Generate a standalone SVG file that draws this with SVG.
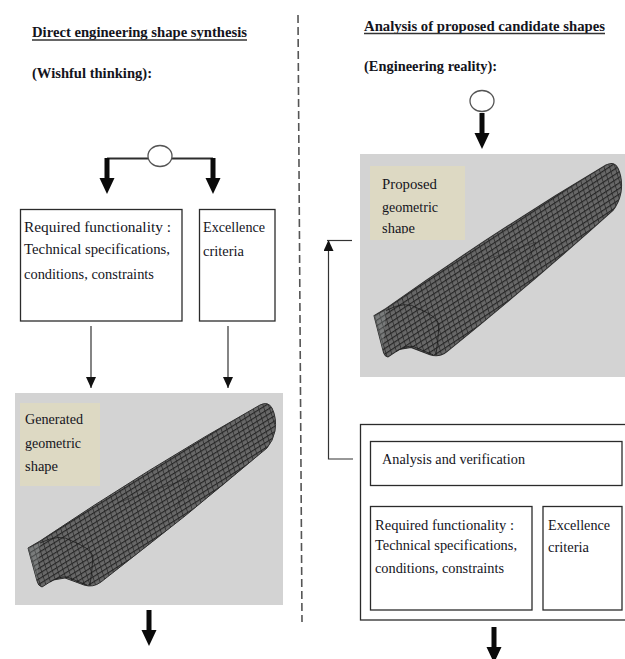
<svg xmlns="http://www.w3.org/2000/svg" width="625" height="659" viewBox="0 0 625 659">
<style>
text{font-family:"Liberation Serif","Times New Roman",serif;font-size:15.5px;fill:#14141c}
.h{font-weight:bold;font-size:15.5px}
.box{fill:#fff;stroke:#2b2b2b;stroke-width:1.3}
.grey{fill:#d3d3d3}
.tan{fill:#ddd9c3}
.thin{fill:none;stroke:#333;stroke-width:1.2}
.mid{fill:none;stroke:#2e2e2e;stroke-width:1.8}
.ul{stroke:#333;stroke-width:1.4}
.circle{fill:#fff;stroke:#555;stroke-width:1.3}
.dash{stroke:#555;stroke-width:1.6;stroke-dasharray:8 4;fill:none}
</style>
<defs>
<marker id="thinHead" markerWidth="11" markerHeight="10" refX="11" refY="5" orient="auto" markerUnits="userSpaceOnUse"><path d="M0 0L11 5L0 10Z" fill="#111"/></marker>
<path id="fat" d="M-2.500 0H2.500V20H7.500L0 36L-7.500 20H-2.500Z" fill="#0a0a0a"/>
<pattern id="mesh" width="5.400" height="4.500" patternUnits="userSpaceOnUse" patternTransform="translate(28 548) rotate(-32) skewX(-14)">
<rect width="5.400" height="4.500" fill="#686868"/>
<path d="M0 0.500H5.400M0 0V4.500" stroke="#262626" stroke-width="1.400" fill="none"/>
</pattern>
<filter id="soft" x="-5%" y="-5%" width="110%" height="110%"><feGaussianBlur stdDeviation="0.4"/></filter>
<g id="blade" filter="url(#soft)">
<path d="M28 548L40 541Q150 467 260 405Q268 401 272 408Q277 418 275 431Q273 441 267 448Q186 517 101 582Q93 588 84 585L65 578L53 580L42 587Q38 586 37 581Z" fill="url(#mesh)" stroke="#2f2f2f" stroke-width="1"/>
<path d="M28 548L40 543L37 581Z" fill="#aeb8b8" opacity="0.25"/>
<path d="M40 543Q60 533 72 541Q90 548 93 556Q92 572 90 585M50 582Q60 576 67 577L87 585" fill="none" stroke="#1c1c1c" stroke-width="0.8"/>
<path d="M117 503Q160 488 190 478L177 507" fill="none" stroke="#1c1c1c" stroke-width="0.8" opacity="0.55"/>
</g>
<clipPath id="clipShape"><rect x="370" y="166" width="95" height="67.500"/></clipPath>
</defs>

<g id="connectors">
<path class="dash" d="M298 15L302 622"/>
<path class="mid" d="M107 158.500H213"/>
<use href="#fat" x="107" y="158"/>
<use href="#fat" x="213" y="158"/>
<path class="thin" d="M91 326V388" marker-end="url(#thinHead)"/>
<path class="thin" d="M228 326V388" marker-end="url(#thinHead)"/>
<use href="#fat" x="149" y="610"/>
<use href="#fat" x="482" y="113"/>
<path class="thin" d="M353 459H328.500V240" marker-end="url(#thinHead)"/>
<path class="thin" d="M327 240.500H352"/>
<use href="#fat" x="494" y="627"/>
</g>

<g id="title-left">
<text class="h" x="32" y="37" textLength="215" lengthAdjust="spacingAndGlyphs">Direct engineering shape synthesis</text>
<line class="ul" x1="32" y1="40" x2="247" y2="40"/>
<text class="h" x="32" y="78" textLength="120" lengthAdjust="spacingAndGlyphs">(Wishful thinking):</text>
</g>
<g id="start-left"><ellipse class="circle" cx="160" cy="156" rx="12" ry="10.500"/></g>

<g id="functionality-left">
<rect class="box" x="20.500" y="209.500" width="161.500" height="111.500"/>
<text x="24" y="232" textLength="147" lengthAdjust="spacingAndGlyphs">Required functionality :</text>
<text x="24" y="254" textLength="146" lengthAdjust="spacingAndGlyphs">Technical specifications,</text>
<text x="24" y="279" textLength="130" lengthAdjust="spacingAndGlyphs">conditions, constraints</text>
</g>
<g id="excellence-left">
<rect class="box" x="199.500" y="209.500" width="75.500" height="111.500"/>
<text x="203" y="232" textLength="62" lengthAdjust="spacingAndGlyphs">Excellence</text>
<text x="203" y="256" textLength="41" lengthAdjust="spacingAndGlyphs">criteria</text>
</g>

<g id="generated-shape">
<rect class="grey" x="15" y="393" width="268" height="212"/>
<rect class="tan" x="20" y="403" width="80" height="83"/>
<use href="#blade"/>
<text x="25" y="424" textLength="58" lengthAdjust="spacingAndGlyphs">Generated</text>
<text x="25" y="448" textLength="56" lengthAdjust="spacingAndGlyphs">geometric</text>
<text x="25" y="471" textLength="33" lengthAdjust="spacingAndGlyphs">shape</text>
</g>

<g id="title-right">
<text class="h" x="364" y="31" textLength="241" lengthAdjust="spacingAndGlyphs">Analysis of proposed candidate shapes</text>
<line class="ul" x1="364" y1="33.500" x2="605" y2="33.500"/>
<text class="h" x="364" y="71" textLength="133" lengthAdjust="spacingAndGlyphs">(Engineering reality):</text>
</g>
<g id="start-right"><ellipse class="circle" cx="482" cy="101" rx="12" ry="10.500"/></g>

<g id="proposed-shape">
<rect class="grey" x="360" y="154" width="265" height="223"/>
<rect class="tan" x="370" y="166" width="95" height="74"/>
<use href="#blade" transform="translate(346 -261.800) scale(1 1.054)"/>
<text x="382" y="189" textLength="55" lengthAdjust="spacingAndGlyphs">Proposed</text>
<text x="382" y="212" textLength="56" lengthAdjust="spacingAndGlyphs">geometric</text>
<text x="382" y="233" textLength="33" lengthAdjust="spacingAndGlyphs" clip-path="url(#clipShape)">shape</text>
</g>

<g id="analysis-container"><rect class="box" x="360.500" y="424.500" width="266" height="195.500"/></g>
<g id="analysis">
<rect class="box" x="370.500" y="441.500" width="251.500" height="44"/>
<text x="382" y="464" textLength="143" lengthAdjust="spacingAndGlyphs">Analysis and verification</text>
</g>
<g id="functionality-right">
<rect class="box" x="370.500" y="506.500" width="161.500" height="103.500"/>
<text x="375" y="530" textLength="139" lengthAdjust="spacingAndGlyphs">Required functionality :</text>
<text x="375" y="550" textLength="142" lengthAdjust="spacingAndGlyphs">Technical specifications,</text>
<text x="375" y="573" textLength="129" lengthAdjust="spacingAndGlyphs">conditions, constraints</text>
</g>
<g id="excellence-right">
<rect class="box" x="543" y="506.500" width="79" height="103.500"/>
<text x="548" y="530" textLength="62" lengthAdjust="spacingAndGlyphs">Excellence</text>
<text x="548" y="552" textLength="41" lengthAdjust="spacingAndGlyphs">criteria</text>
</g>
</svg>
